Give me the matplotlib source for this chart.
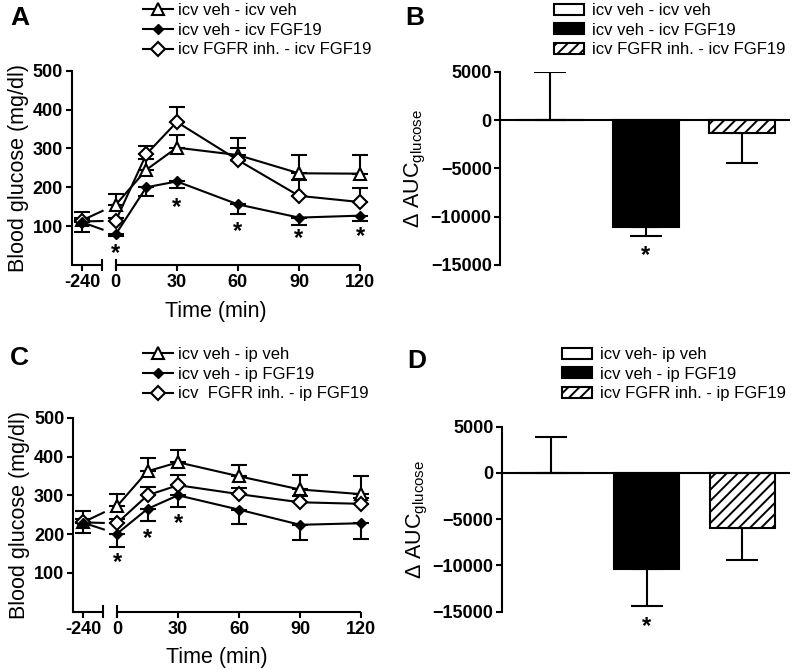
import matplotlib
matplotlib.use('Agg')
import matplotlib.pyplot as plt
import matplotlib as mpl
from matplotlib.lines import Line2D
from matplotlib.patches import Patch

mpl.rcParams['font.family'] = 'Liberation Sans'
mpl.rcParams['mathtext.default'] = 'regular'
mpl.rcParams['hatch.linewidth'] = 1.4
mpl.rcParams['axes.linewidth'] = 1.5

# ---------------------------------------------------------------------------
# data
# ---------------------------------------------------------------------------
times = [-240, 0, 15, 30, 60, 90, 120]
time_ticks = [-240, 0, 30, 60, 90, 120]

# panel A: blood glucose, icv FGF19
a_labels = ['icv veh - icv veh', 'icv veh - icv FGF19', 'icv FGFR inh. - icv FGF19']
a_veh = [115, 155, 245, 302, 283, 236, 235]
a_veh_err = [21, 28, 27, 33, 43, 47, 47]
a_fgf = [110, 79, 200, 215, 156, 122, 127]
a_fgf_err = [25, 4, 22, 16, 25, 19, 15]
a_inh = [112, 114, 285, 368, 270, 178, 162]
a_inh_err = [10, 8, 20, 38, 31, 40, 36]
a_sig_times = [0, 30, 60, 90, 120]
a_sig_y = [37, 157, 95, 77, 82]

# panel B: delta AUC, icv FGF19
b_groups = ['icv veh - icv veh', 'icv veh - icv FGF19', 'icv FGFR inh. - icv FGF19']
b_auc = [0, -11100, -1350]
b_auc_err = [4950, 900, 3100]
b_sig_y = -13700

# panel C: blood glucose, ip FGF19
c_labels = ['icv veh - ip veh', 'icv veh - ip FGF19', 'icv  FGFR inh. - ip FGF19']
c_veh = [231, 272, 362, 385, 349, 315, 303]
c_veh_err = [28, 32, 33, 33, 30, 37, 46]
c_fgf = [229, 201, 265, 300, 263, 224, 228]
c_fgf_err = [26, 33, 31, 30, 36, 39, 41]
c_inh = [230, 228, 300, 326, 303, 282, 278]
c_inh_err = [10, 10, 22, 26, 15, 15, 15]
c_sig_times = [0, 15, 30]
c_sig_y = [134, 197, 235]

# panel D: delta AUC, ip FGF19
d_groups = ['icv veh- ip veh', 'icv veh - ip FGF19', 'icv FGFR inh. - ip FGF19']
d_auc = [0, -10350, -5950]
d_auc_err = [3850, 4050, 3500]
d_sig_y = -16300

# ---------------------------------------------------------------------------
# layout constants for the broken time axis
# ---------------------------------------------------------------------------
PRE_POS = -16.5     # where t = -240 sits on the plot
LEFT_EDGE = -21.5
BREAK_END = -7.0
LINE_END = -6.0

styles = [dict(marker='^', ms=8.5, mfc='white', mec='black', mew=1.5),
          dict(marker='D', ms=5.5, mfc='black', mec='black', mew=1.0),
          dict(marker='D', ms=7, mfc='white', mec='black', mew=1.5)]
err_up = [True, False, True]


def xpos(t):
    return PRE_POS if t == -240 else t


def gtt_plot(ax, series, errors, labels, sig_times, sig_y, legend_xy):
    """ glucose tolerance curves on a broken time axis"""
    xs = [xpos(t) for t in times]
    handles = []
    for i, (ys, es) in enumerate(zip(series, errors)):
        st = styles[i]
        if err_up[i]:
            yerr = [[0] * len(es), es]
        else:
            yerr = [es, [0] * len(es)]
        eb = ax.errorbar(xs, ys, yerr=yerr, fmt='none', ecolor='black',
                         elinewidth=1.5, capsize=6, capthick=1.5, zorder=2)
        for art in eb.lines[1] + eb.lines[2]:
            art.set_clip_on(False)
        # connection from the pre-value, cut at the axis break
        frac = (LINE_END - PRE_POS) / (0 - PRE_POS)
        ax.plot([PRE_POS, LINE_END], [ys[0], ys[0] + frac * (ys[1] - ys[0])],
                color='black', lw=1.5, zorder=2, solid_capstyle='butt')
        ax.plot(xs[1:], ys[1:], color='black', lw=1.5, zorder=2, clip_on=False)
        ax.plot(xs, ys, linestyle='none', zorder=3 + (i == 1), clip_on=False, **st)
        handles.append(Line2D([], [], color='black', lw=1.5, **st))

    for t, y in zip(sig_times, sig_y):
        ax.annotate('*', xy=(t, y), xytext=(0, -7), textcoords='offset points',
                    ha='center', va='baseline', fontsize=17, fontweight='bold')

    ax.set_xlim(LEFT_EDGE, 120)
    ax.set_ylim(0, 500)
    ax.set_yticks([100, 200, 300, 400, 500])
    ax.set_xticks([xpos(t) for t in time_ticks])
    ax.set_xticklabels([str(t) for t in time_ticks])
    ax.tick_params(direction='out', length=4, width=1.5, labelsize=13, pad=2.5)
    for lab in ax.get_xticklabels() + ax.get_yticklabels():
        lab.set_fontweight('bold')

    ax.spines['top'].set_visible(False)
    ax.spines['right'].set_visible(False)
    ax.spines['bottom'].set_visible(False)

    # broken bottom axis
    trans = ax.get_xaxis_transform()
    for x0, x1 in [(LEFT_EDGE, BREAK_END), (0, 120)]:
        ax.plot([x0, x1], [0, 0], color='black', lw=1.5, transform=trans,
                clip_on=False, solid_capstyle='butt')
    for xb in [BREAK_END, 0]:
        ax.plot([xb, xb], [-0.027, 0.027], color='black', lw=1.5,
                transform=trans, clip_on=False)

    ax.set_ylabel('Blood glucose (mg/dl)', fontsize=15.5, labelpad=3)
    ax.set_xlabel('Time (min)', fontsize=15.5, labelpad=7)

    ax.legend(handles, labels, loc='upper left', bbox_to_anchor=legend_xy,
              bbox_transform=ax.figure.transFigure, frameon=False, fontsize=12,
              handlelength=1.8, handletextpad=0.3, labelspacing=0.28,
              borderpad=0, borderaxespad=0)


def auc_plot(ax, values, errors, groups, sig_y, legend_xy):
    """ delta AUC bar chart"""
    fills = [dict(facecolor='white'), dict(facecolor='black'),
             dict(facecolor='white', hatch='///')]
    handles = []
    for i, (v, e) in enumerate(zip(values, errors)):
        ax.bar(i, v, width=0.68, edgecolor='black', linewidth=1.5, zorder=2, **fills[i])
        yerr = [[0], [e]] if v >= 0 else [[e], [0]]
        ax.errorbar(i, v, yerr=yerr, fmt='none', ecolor='black',
                    elinewidth=1.5, capsize=11.5, capthick=1.5, zorder=1)
        handles.append(Patch(edgecolor='black', linewidth=1.5, **fills[i]))
    ax.axhline(0, color='black', lw=1.5, zorder=3)
    ax.annotate('*', xy=(1, sig_y), xytext=(0, -7), textcoords='offset points',
                ha='center', va='baseline', fontsize=17, fontweight='bold',
                annotation_clip=False)

    ax.set_xlim(-0.52, 2.5)
    ax.set_ylim(-15000, 5000)
    ax.set_yticks([-15000, -10000, -5000, 0, 5000])
    ax.set_xticks([])
    ax.tick_params(direction='out', length=4, width=1.5, labelsize=13, pad=2)
    for lab in ax.get_yticklabels():
        lab.set_fontweight('bold')
    for s in ['top', 'right', 'bottom']:
        ax.spines[s].set_visible(False)
    ax.set_ylabel(r'$\Delta$ AUC$_{glucose}$', fontsize=15.5, labelpad=2)

    ax.legend(handles, groups, loc='upper left', bbox_to_anchor=legend_xy,
              bbox_transform=ax.figure.transFigure, frameon=False, fontsize=12,
              handlelength=1.8, handleheight=0.65, handletextpad=0.45,
              labelspacing=0.28, borderpad=0, borderaxespad=0)


W, H = 792, 670
fig = plt.figure(figsize=(W / 100, H / 100), dpi=100)


def px_axes(left, right, top, bottom):
    return fig.add_axes([left / W, 1 - bottom / H, (right - left) / W, (bottom - top) / H])


ax_a = px_axes(72, 360, 70.7, 265)
ax_b = px_axes(500, 790, 71.7, 265)
ax_c = px_axes(73.3, 361, 417.7, 611.7)
ax_d = px_axes(501.7, 790, 426.7, 611.7)

gtt_plot(ax_a, [a_veh, a_fgf, a_inh], [a_veh_err, a_fgf_err, a_inh_err],
         a_labels, a_sig_times, a_sig_y, (143 / W, 1 - 3 / H))
auc_plot(ax_b, b_auc, b_auc_err, b_groups, b_sig_y, (554 / W, 1 - 3 / H))
gtt_plot(ax_c, [c_veh, c_fgf, c_inh], [c_veh_err, c_fgf_err, c_inh_err],
         c_labels, c_sig_times, c_sig_y, (143 / W, 1 - 347 / H))
auc_plot(ax_d, d_auc, d_auc_err, d_groups, d_sig_y, (562 / W, 1 - 347 / H))

for lab, x, y in [('A', 10, 6), ('B', 405, 6), ('C', 10, 346), ('D', 407, 349)]:
    fig.text(x / W, 1 - y / H, lab, ha='left', va='top', fontsize=19, fontweight='bold')

fig.savefig('out.png', dpi=100)
